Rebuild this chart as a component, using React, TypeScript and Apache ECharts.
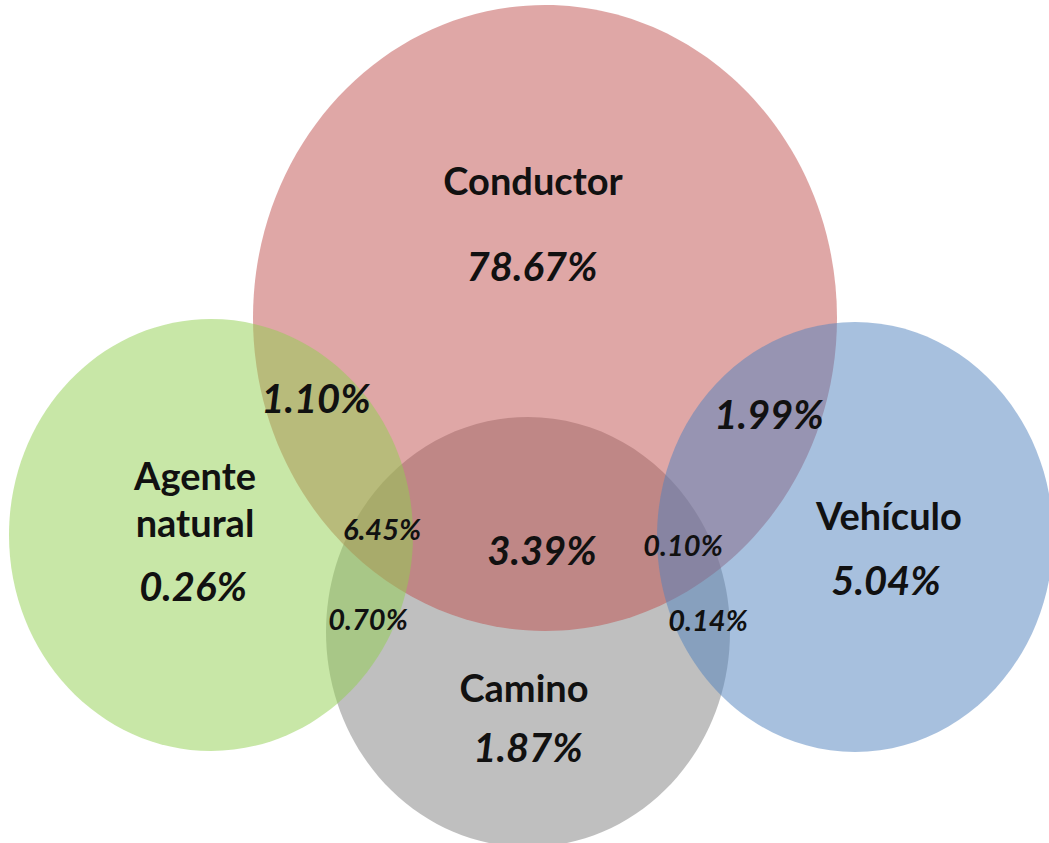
import React, { useEffect, useRef } from "react";
import * as echarts from "echarts";

// ---- data ----
const setNames = ["Camino", "Conductor", "Agente\nnatural", "Vehículo"];
const setValues = [1.87, 78.67, 0.26, 5.04];
const overlapNames = [
  "Conductor ∩ Agente natural",
  "Conductor ∩ Vehículo",
  "Conductor ∩ Agente natural ∩ Camino",
  "Conductor ∩ Camino",
  "Conductor ∩ Vehículo ∩ Camino",
  "Agente natural ∩ Camino",
  "Vehículo ∩ Camino",
];
const overlapValues = [1.1, 1.99, 6.45, 3.39, 0.1, 0.7, 0.14];

// ---- layout (pixel-space coordinates of the diagram) ----
const setCenters = [
  [528, 632],
  [545, 318],
  [211, 535],
  [855, 537],
];
const setRadii = [
  [202, 215],
  [292, 313],
  [202, 216],
  [198, 215],
];
const setColors = [
  "rgba(128,128,128,0.5)",
  "rgba(192,80,77,0.5)",
  "rgba(146,208,80,0.5)",
  "rgba(79,129,189,0.5)",
];
const setNamePos = [
  [524, 687],
  [533, 180],
  [195, 498],
  [889, 515],
];
const setValuePos = [
  [528, 747],
  [532, 266],
  [193, 586],
  [886, 580],
];
const overlapPos = [
  [316, 398],
  [769, 414],
  [382, 528],
  [542, 550],
  [683, 544],
  [368, 618],
  [708, 619],
];
const overlapBig = [true, true, false, true, false, false, false];

const W = 1049;
const H = 843;
const FONT = "Lato, 'Open Sans', sans-serif";

export default function App() {
  const ref = useRef<HTMLDivElement>(null);
  useEffect(() => {
    if (!ref.current) return;
    const chart = echarts.init(ref.current, undefined, { renderer: "svg" });

    const ellipseData = setNames.map((n, i) => ({
      name: n.replace("\n", " "),
      value: [setCenters[i][0], setCenters[i][1], setRadii[i][0], setRadii[i][1], i],
    }));

    type T = { x: number; y: number; text: string; size: number; italic: boolean; lh: number };
    const texts: T[] = [];
    setNames.forEach((n, i) => {
      texts.push({ x: setNamePos[i][0], y: setNamePos[i][1], text: n, size: 38, italic: false, lh: 47 });
      texts.push({
        x: setValuePos[i][0],
        y: setValuePos[i][1],
        text: setValues[i].toFixed(2) + "%",
        size: 40,
        italic: true,
        lh: 48,
      });
    });
    overlapValues.forEach((v, i) => {
      texts.push({
        x: overlapPos[i][0],
        y: overlapPos[i][1],
        text: v.toFixed(2) + "%",
        size: overlapBig[i] ? 40 : 29,
        italic: true,
        lh: 40,
      });
    });

    chart.setOption({
      animation: false,
      backgroundColor: "#ffffff",
      grid: { left: 0, top: 0, right: 0, bottom: 0 },
      xAxis: { type: "value", min: 0, max: W, show: false },
      yAxis: { type: "value", min: 0, max: H, inverse: true, show: false },
      series: [
        {
          type: "custom",
          coordinateSystem: "cartesian2d",
          data: ellipseData,
          renderItem: (params: any, api: any) => {
            const c = api.coord([api.value(0), api.value(1)]);
            const s = api.size([api.value(2), api.value(3)]);
            const idx = api.value(4);
            return {
              type: "ellipse",
              shape: { cx: c[0], cy: c[1], rx: s[0], ry: s[1] },
              style: { fill: setColors[idx], stroke: "none" },
            };
          },
          silent: true,
        },
        {
          type: "custom",
          coordinateSystem: "cartesian2d",
          data: texts.map((t, i) => ({ value: [t.x, t.y, i] })),
          z: 5,
          renderItem: (params: any, api: any) => {
            const t = texts[api.value(2)];
            const c = api.coord([api.value(0), api.value(1)]);
            return {
              type: "text",
              x: c[0],
              y: c[1],
              style: {
                text: t.text,
                fill: "#111111",
                fontFamily: FONT,
                fontSize: t.size,
                fontWeight: "bold",
                fontStyle: t.italic ? "italic" : "normal",
                align: "center",
                verticalAlign: "middle",
                lineHeight: t.lh,
              },
            };
          },
          silent: true,
        },
      ],
    });
    return () => chart.dispose();
  }, []);
  return (
    <div
      ref={ref}
      style={{ position: "fixed", left: 0, top: 0, width: W, height: H }}
    />
  );
}
